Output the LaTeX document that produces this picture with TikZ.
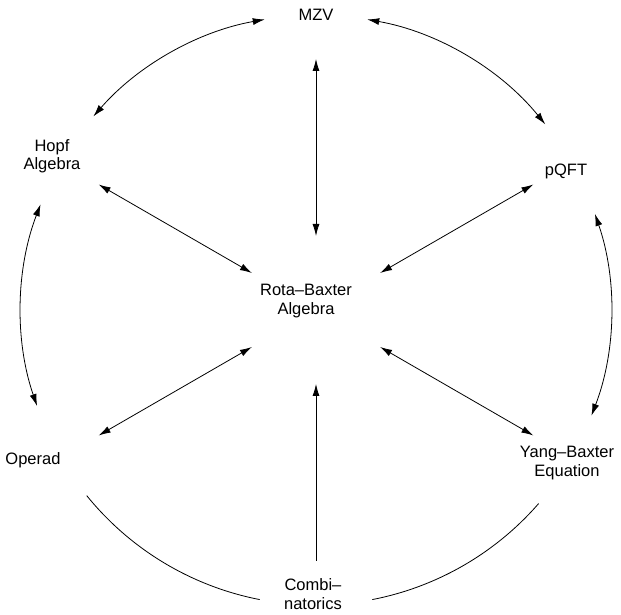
\documentclass[tikz,border=0pt]{standalone}
\usepackage{fontspec}
\setmainfont{Liberation Sans}
\usetikzlibrary{arrows.meta,calc}
\begin{document}
\begin{tikzpicture}[x=1pt,y=1pt,
  lbl/.style={align=center,inner sep=0pt,font=\fontsize{16.5}{18.5}\selectfont},
  conn/.style={line width=0.8pt},
  both/.style={conn,{Latex[length=12pt,width=7pt]}-{Latex[length=12pt,width=7pt]}},
  one/.style={conn,-{Latex[length=12pt,width=7pt]}}]
\useasboundingbox (0,0) rectangle (621,615);
\coordinate (C) at (316,305);
% labels
\node[lbl] (mzv) at (316,600) {MZV};
\node[lbl] (hopf) at (52,459) {Hopf\\Algebra};
\node[lbl] (pqft) at (566,444) {pQFT};
\node[lbl] (rb) at (306,314) {Rota–Baxter\\Algebra};
\node[lbl] (operad) at (33,155) {Operad};
\node[lbl] (yb) at (567,152) {Yang–Baxter\\Equation};
\node[lbl] (comb) at (313,21) {Combi–\\natorics};
% arc end points on the circle
\foreach \n/\a in {m1/100,h1/139,m2/80,p1/39,h2/159,o1/199,p2/19,y1/-21,o2/219,c1/259,c2/281,y2/319}
  \coordinate (\n) at ($(C)+(\a:295pt)$);
% radial end points
\foreach \n/\a in {mzv/90,hopf/150,pqft/30,operad/210,yb/330,comb/270}{
  \coordinate (\n-in) at ($(C)+(\a:74pt)$);
  \coordinate (\n-out) at ($(C)+(\a:251pt)$);
}
% arcs
\draw[both] (m1) arc[start angle=100,end angle=139,radius=295pt];
\draw[both] (m2) arc[start angle=80,end angle=39,radius=295pt];
\draw[both] (h2) arc[start angle=159,end angle=199,radius=295pt];
\draw[both] (p2) arc[start angle=19,end angle=-21,radius=295pt];
\draw[conn] (o2) arc[start angle=219,end angle=259,radius=295pt];
\draw[conn] (c2) arc[start angle=281,end angle=319,radius=295pt];
% radial connectors
\draw[both] (mzv-out) -- (mzv-in);
\draw[both] (hopf-out) -- (hopf-in);
\draw[both] (pqft-out) -- (pqft-in);
\draw[both] (operad-out) -- (operad-in);
\draw[both] (yb-out) -- (yb-in);
\draw[one] (comb-out) -- (comb-in);
\end{tikzpicture}
\end{document}
